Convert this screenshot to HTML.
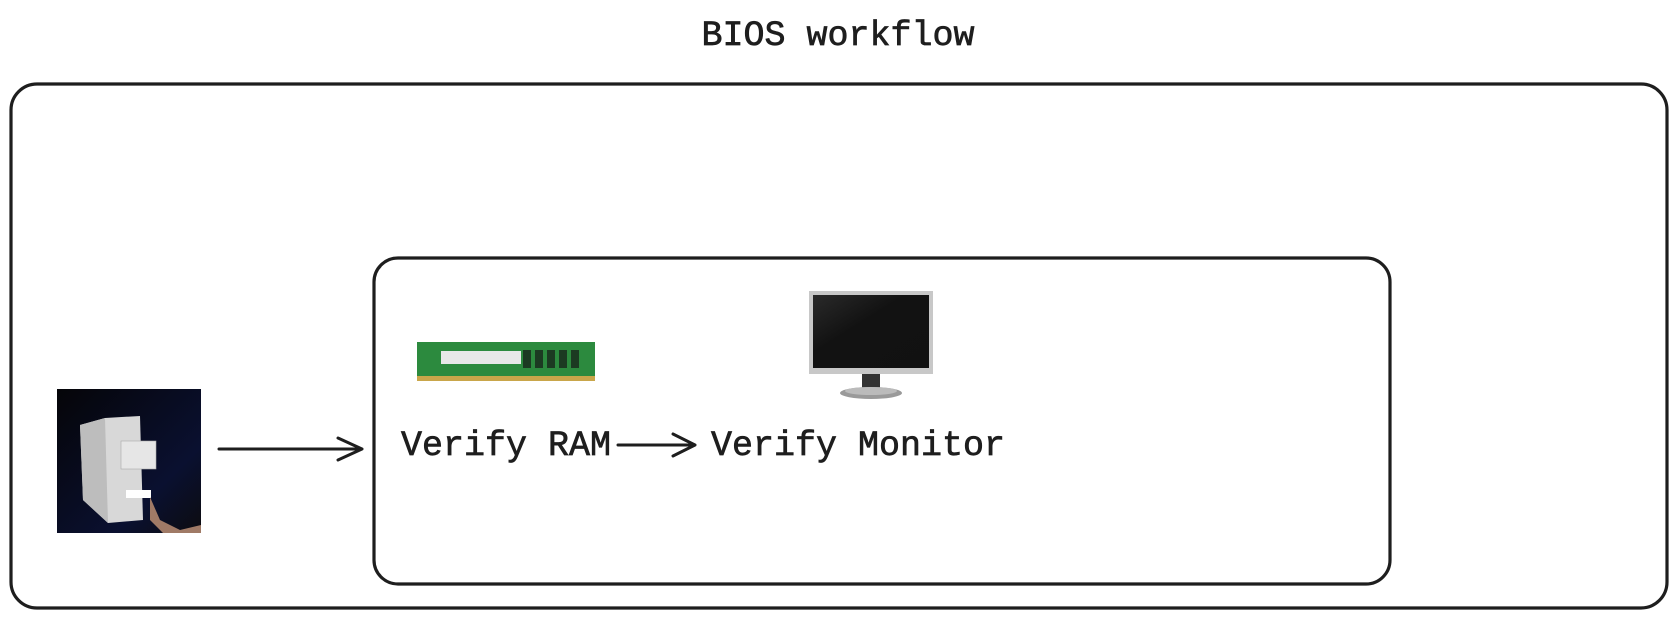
<!DOCTYPE html>
<html><head><meta charset="utf-8"><style>
html,body{margin:0;padding:0;background:#fff;width:1676px;height:619px;overflow:hidden}
</style></head><body>
<svg width="1676" height="619" viewBox="0 0 1676 619" xmlns="http://www.w3.org/2000/svg">
<defs>
<linearGradient id="bg" x1="0" y1="0" x2="1" y2="1"><stop offset="0" stop-color="#050508"/><stop offset="0.7" stop-color="#0a1030"/><stop offset="1" stop-color="#0c0c10"/></linearGradient>
<linearGradient id="scr" x1="0" y1="0" x2="1" y2="1"><stop offset="0" stop-color="#2a2a2a"/><stop offset="0.4" stop-color="#121212"/><stop offset="1" stop-color="#111"/></linearGradient>
<clipPath id="pc"><rect x="57" y="389" width="144" height="144"/></clipPath>
</defs>
<g font-family="Liberation Mono, monospace" font-size="35" fill="#1e1e1e" stroke="#1e1e1e" stroke-width="0.7">
<text x="838" y="45" text-anchor="middle">BIOS workflow</text>
<text x="401" y="455">Verify RAM</text>
<text x="711" y="455">Verify Monitor</text>
</g>
<rect x="11" y="84" width="1656" height="524" rx="26" fill="none" stroke="#1e1e1e" stroke-width="3.2"/>
<rect x="374" y="258" width="1016" height="326" rx="24" fill="none" stroke="#1e1e1e" stroke-width="3.2"/>
<!-- computer photo -->
<g clip-path="url(#pc)">
<rect x="57" y="389" width="144" height="144" fill="url(#bg)"/>
<polygon points="80,425 105,418 140,416 143,520 108,523 83,500" fill="#d8d8d8"/>
<polygon points="80,425 105,418 108,523 83,500" fill="#bdbdbd"/>
<rect x="121" y="441" width="35" height="28" fill="#e6e6e6" stroke="#aaa" stroke-width="0.6"/>
<rect x="126" y="490" width="25" height="8" fill="#fff"/>
<path d="M150 497 L160 520 L180 530 L201 525 L201 540 L170 540 L150 520 Z" fill="#a07a66"/>
</g>
<!-- arrow 1 -->
<path d="M219 449 L362 449 M338 438 L362 449 L338 460" fill="none" stroke="#1e1e1e" stroke-width="3" stroke-linecap="round" stroke-linejoin="round"/>
<!-- RAM -->
<rect x="417" y="342" width="178" height="38" fill="#2c8a3e"/>
<rect x="417" y="376" width="178" height="5" fill="#c9a64a"/>
<rect x="441" y="351" width="80" height="13" fill="#e8e8e8"/>
<g fill="#1c3a22"><rect x="523" y="350" width="8" height="18"/><rect x="535" y="350" width="8" height="18"/><rect x="547" y="350" width="8" height="18"/><rect x="559" y="350" width="8" height="18"/><rect x="571" y="350" width="8" height="18"/></g>
<!-- monitor -->
<rect x="809" y="291" width="124" height="83" fill="#c8c8c8"/>
<rect x="813" y="295" width="116" height="73" fill="url(#scr)"/>
<rect x="862" y="374" width="18" height="16" fill="#333"/>
<ellipse cx="871" cy="393" rx="31" ry="6" fill="#9a9a9a"/>
<ellipse cx="871" cy="391" rx="26" ry="4" fill="#bbb"/>
<path d="M618 445 L695 445 M673 434 L695 445 L673 456" fill="none" stroke="#1e1e1e" stroke-width="3" stroke-linecap="round" stroke-linejoin="round"/>
</svg>
</body></html>
